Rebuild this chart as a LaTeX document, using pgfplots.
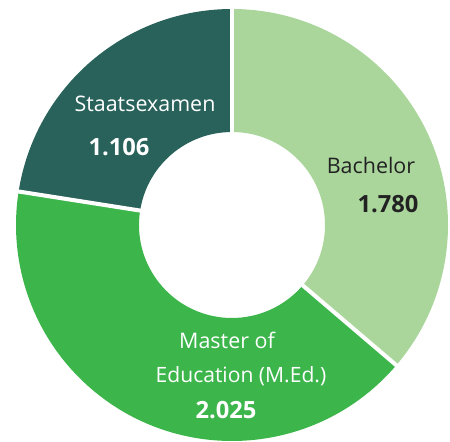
\documentclass[border=0pt]{standalone}
\usepackage{pgfplots}
\usepackage{pgfplotstable}
\pgfplotsset{compat=1.18}
\usepackage{fontspec}
\setmainfont{Open Sans}
\definecolor{cBach}{HTML}{AAD69C}
\definecolor{cMast}{HTML}{3CB54B}
\definecolor{cStaat}{HTML}{29625A}
\definecolor{cText}{HTML}{222222}
\pgfplotstableread{
name value
Bachelor 1780
Master 2025
Staatsexamen 1106
}\donutdata
\def\cx{4.64}\def\cy{4.32}\def\ro{4.32}\def\ri{1.86}
\newcommand\sep[1]{\draw[white, line width=2.3pt] (axis cs:{\cx+(\ri-0.1)*cos(#1)},{\cy+(\ri-0.1)*sin(#1)}) -- (axis cs:{\cx+(\ro+0.08)*cos(#1)},{\cy+(\ro+0.08)*sin(#1)});}
\begin{document}%
\begin{tikzpicture}
\pgfplotstablegetelem{0}{value}\of\donutdata \let\vA\pgfplotsretval
\pgfplotstablegetelem{1}{value}\of\donutdata \let\vB\pgfplotsretval
\pgfplotstablegetelem{2}{value}\of\donutdata \let\vC\pgfplotsretval
\pgfmathsetmacro{\tot}{(\vA+\vB+\vC)/100}
\pgfmathsetmacro{\aA}{90}
\pgfmathsetmacro{\aB}{90-3.6*(\vA/\tot)}
\pgfmathsetmacro{\aC}{\aB-3.6*(\vB/\tot)}
\pgfmathsetmacro{\aD}{\aC-3.6*(\vC/\tot)}
\begin{axis}[hide axis, scale only axis, x=1cm, y=1cm,
  xmin=0, xmax=9, ymin=0, ymax=8.82, clip=false, enlargelimits=false]
% sectors
\fill[cBach] (axis cs:{\cx+\ro*cos(\aA)},{\cy+\ro*sin(\aA)}) arc[start angle=\aA, end angle=\aB, radius=\ro]
  -- (axis cs:{\cx+\ri*cos(\aB)},{\cy+\ri*sin(\aB)}) arc[start angle=\aB, end angle=\aA, radius=\ri] -- cycle;
\fill[cMast] (axis cs:{\cx+\ro*cos(\aB)},{\cy+\ro*sin(\aB)}) arc[start angle=\aB, end angle=\aC, radius=\ro]
  -- (axis cs:{\cx+\ri*cos(\aC)},{\cy+\ri*sin(\aC)}) arc[start angle=\aC, end angle=\aB, radius=\ri] -- cycle;
\fill[cStaat] (axis cs:{\cx+\ro*cos(\aC)},{\cy+\ro*sin(\aC)}) arc[start angle=\aC, end angle=\aD, radius=\ro]
  -- (axis cs:{\cx+\ri*cos(\aD)},{\cy+\ri*sin(\aD)}) arc[start angle=\aD, end angle=\aC, radius=\ri] -- cycle;
% separators
\sep{\aA}
\sep{\aB}
\sep{\aC}
% labels
\node[anchor=base, inner sep=0pt, font=\fontsize{12.2}{14}\selectfont, white] at (axis cs:2.90,6.60) {Staatsexamen};
\node[anchor=base, inner sep=0pt, white, font=\fontsize{13.5}{15}\selectfont\bfseries] at (axis cs:2.38,5.72) {1.106};
\node[anchor=base, inner sep=0pt, font=\fontsize{12.2}{14}\selectfont, cText] at (axis cs:7.42,5.36) {Bachelor};
\node[anchor=base, inner sep=0pt, cText, font=\fontsize{13.5}{15}\selectfont\bfseries] at (axis cs:7.76,4.58) {1.780};
\node[anchor=base, inner sep=0pt, font=\fontsize{12.2}{14}\selectfont, white] at (axis cs:4.54,1.86) {Master of};
\node[anchor=base, inner sep=0pt, font=\fontsize{12}{14}\selectfont, white] at (axis cs:4.82,1.18) {Education (M.Ed.)};
\node[anchor=base, inner sep=0pt, white, font=\fontsize{13.5}{15}\selectfont\bfseries] at (axis cs:4.52,0.46) {2.025};
\coordinate (BBSW) at (axis cs:0,0);
\coordinate (BBNE) at (axis cs:9,8.82);
\end{axis}
\pgfresetboundingbox
\path[use as bounding box] (BBSW) rectangle (BBNE);
\end{tikzpicture}%
\end{document}
